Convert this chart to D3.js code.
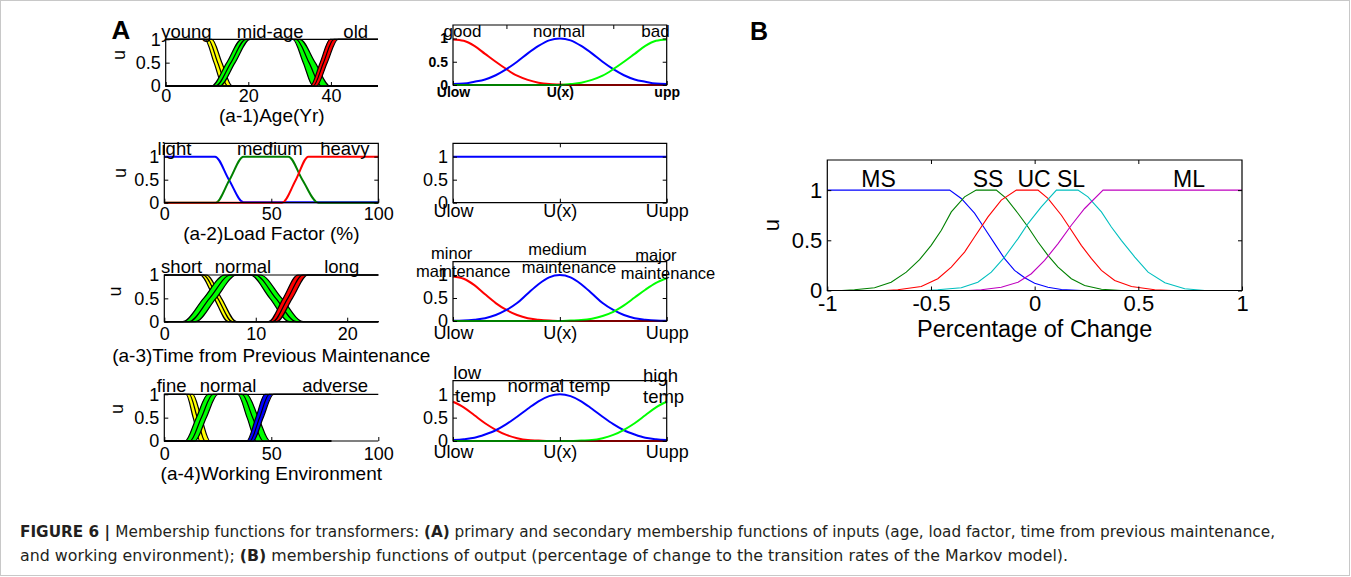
<!DOCTYPE html>
<html>
<head>
<meta charset="utf-8">
<title>Membership functions for transformers</title>
<script src="https://cdn.jsdelivr.net/npm/d3@7/dist/d3.min.js"></script>
<style>
  body { margin: 0; background: #fff; }
  svg { display: block; }
</style>
</head>
<body>
<div id="figure"></div>
<script>
// values
const uTicks = [0, 0.5, 1];

// (a-1) age: each band = inner edge, centre line, outer edge
const ageTicks = [0, 20, 40];
const ageNames = ["young", "mid-age", "old"];
const ageYoung = {
  inner: [[0, 1], [9.5, 1], [11.7, 0.5], [13.9, 0], [51.4, 0]],
  mid: [[0, 1], [10.3, 1], [12.6, 0.5], [15, 0], [51.4, 0]],
  outer: [[0, 1], [11.2, 1], [13.6, 0.5], [16.1, 0], [51.4, 0]],
};
const ageMid = {
  inner: [[0, 0], [13.1, 0], [16.8, 0.5], [20.4, 1], [30.8, 1], [33.3, 0.5], [35.7, 0], [51.4, 0]],
  mid: [[0, 0], [12.1, 0], [15.8, 0.5], [19.4, 1], [31.6, 1], [34.7, 0.5], [37.7, 0], [51.4, 0]],
  outer: [[0, 0], [11.1, 0], [14.8, 0.5], [18.4, 1], [32.5, 1], [36.2, 0.5], [39.8, 0], [51.4, 0]],
};
const ageOld = {
  inner: [[0, 0], [36.5, 0], [39.1, 0.5], [41.7, 1], [51.4, 1]],
  mid: [[0, 0], [35.7, 0], [38.2, 0.5], [40.7, 1], [51.4, 1]],
  outer: [[0, 0], [35, 0], [37.4, 0.5], [39.8, 1], [51.4, 1]],
};

// (a-2) load factor
const loadTicks = [0, 50, 100];
const loadNames = ["light", "medium", "heavy"];
const loadLight = [[0, 1], [23.7, 1], [30.2, 0.5], [37, 0.01], [100, 0.01]];
const loadMedium = [[0, 0], [24, 0], [30.5, 0.5], [37, 1], [58, 1], [64.5, 0.5], [72, 0], [100, 0]];
const loadHeavy = [[0, 0], [55, 0], [61.5, 0.5], [67.3, 1], [100, 1]];

// (a-3) time from previous maintenance
const timeTicks = [0, 10, 20];
const timeNames = ["short", "normal", "long"];
const timeShort = {
  inner: [[0, 1], [3.9, 1], [5.45, 0.5], [7, 0], [23.4, 0]],
  mid: [[0, 1], [4.25, 1], [5.85, 0.5], [7.45, 0], [23.4, 0]],
  outer: [[0, 1], [4.6, 1], [6.25, 0.5], [7.9, 0], [23.4, 0]],
};
const timeNormal = {
  inner: [[0, 0], [3.4, 0], [5.65, 0.5], [7.9, 1], [9.4, 1], [11.55, 0.5], [13.7, 0], [23.4, 0]],
  mid: [[0, 0], [2.7, 0], [4.95, 0.5], [7.25, 1], [9.95, 1], [12.2, 0.5], [14.45, 0], [23.4, 0]],
  outer: [[0, 0], [2, 0], [4.3, 0.5], [6.6, 1], [10.5, 1], [12.85, 0.5], [15.2, 0], [23.4, 0]],
};
const timeLong = {
  inner: [[0, 0], [12.3, 0], [14, 0.5], [15.7, 1], [23.4, 1]],
  mid: [[0, 0], [11.85, 0], [13.5, 0.5], [15.15, 1], [23.4, 1]],
  outer: [[0, 0], [11.4, 0], [13, 0.5], [14.6, 1], [23.4, 1]],
};

// (a-4) working environment
const envTicks = [0, 50, 100];
const envNames = ["fine", "normal", "adverse"];
const envFine = {
  inner: [[0, 1], [10.2, 1], [13.5, 0.5], [16.7, 0], [78, 0]],
  mid: [[0, 1], [11.7, 1], [15.4, 0.5], [19, 0], [78, 0]],
  outer: [[0, 1], [13.3, 1], [17.3, 0.5], [21.4, 0], [78, 0]],
};
const envNormal = {
  inner: [[0, 0], [14.3, 0], [19.6, 0.5], [25, 1], [34.4, 1], [38.7, 0.5], [43, 0], [78, 0]],
  mid: [[0, 0], [12, 0], [17.3, 0.5], [22.7, 1], [36.4, 1], [41.3, 0.5], [46.2, 0], [78, 0]],
  outer: [[0, 0], [9.7, 0], [15, 0.5], [20.4, 1], [38.5, 1], [44, 0.5], [49.4, 0], [78, 0]],
};
const envAdverse = {
  inner: [[0, 0], [41.5, 0], [46.2, 0.5], [51, 1], [78, 1]],
  mid: [[0, 0], [40, 0], [44.5, 0.5], [49, 1], [78, 1]],
  outer: [[0, 0], [38.5, 0], [42.8, 0.5], [47, 1], [78, 1]],
};

const primaryTitles = ["(a-1)Age(Yr)", "(a-2)Load Factor (%)", "(a-3)Time from Previous Maintenance", "(a-4)Working Environment"];

// secondary functions, sampled on U(x) from Ulow (0) to Uupp (1)
const secX = [0, 0.05, 0.1, 0.15, 0.2, 0.25, 0.3, 0.35, 0.4, 0.45, 0.5, 0.55, 0.6, 0.65, 0.7, 0.75, 0.8, 0.85, 0.9, 0.95, 1];
const secTicks = [0, 0.5, 1];
const secTickText = ["Ulow", "U(x)", "Uupp"];
const secTickTextBold = ["Ulow", "U(x)", "upp"];

const ageGood = [0.98, 0.95, 0.84, 0.67, 0.5, 0.34, 0.2, 0.11, 0.05, 0.02, 0.01, 0, 0, 0, 0, 0, 0, 0, 0, 0, 0];
const ageNormal = [0.02, 0.03, 0.07, 0.12, 0.21, 0.34, 0.5, 0.68, 0.84, 0.96, 1, 0.96, 0.84, 0.68, 0.5, 0.34, 0.21, 0.12, 0.07, 0.03, 0.02];
const ageBad = [0, 0, 0, 0, 0, 0, 0, 0, 0, 0, 0, 0.02, 0.05, 0.11, 0.2, 0.34, 0.5, 0.67, 0.84, 0.95, 0.98];
const ageSecNames = ["good", "normal", "bad"];

const loadFlat = [1, 1, 1, 1, 1, 1, 1, 1, 1, 1, 1, 1, 1, 1, 1, 1, 1, 1, 1, 1, 1];

const timeMinor = [0.97, 0.92, 0.78, 0.58, 0.39, 0.24, 0.13, 0.06, 0.03, 0.01, 0, 0, 0, 0, 0, 0, 0, 0, 0, 0, 0];
const timeMedium = [0.003, 0.01, 0.03, 0.06, 0.13, 0.24, 0.39, 0.6, 0.8, 0.95, 1, 0.95, 0.8, 0.6, 0.39, 0.24, 0.13, 0.06, 0.03, 0.01, 0.003];
const timeMajor = [0, 0, 0, 0, 0, 0, 0, 0, 0, 0, 0, 0.01, 0.02, 0.05, 0.11, 0.2, 0.34, 0.51, 0.68, 0.83, 0.93];
const timeSecNames = [["minor", "maintenance"], ["medium", "maintenance"], ["major", "maintenance"]];

const envLow = [0.84, 0.72, 0.55, 0.38, 0.24, 0.13, 0.06, 0.02, 0.01, 0, 0, 0, 0, 0, 0, 0, 0, 0, 0, 0, 0];
const envNormalTemp = [0.02, 0.04, 0.07, 0.14, 0.23, 0.36, 0.52, 0.69, 0.85, 0.96, 1, 0.96, 0.85, 0.69, 0.52, 0.36, 0.23, 0.14, 0.07, 0.04, 0.02];
const envHigh = [0, 0, 0, 0, 0, 0, 0, 0, 0, 0, 0, 0, 0.01, 0.02, 0.06, 0.13, 0.24, 0.38, 0.55, 0.72, 0.84];
const envSecNames = [["low", "temp"], ["normal temp"], ["high", "temp"]];

// (B) output: percentage of change
const outTicks = [-1, -0.5, 0, 0.5, 1];
const outNames = ["MS", "SS", "UC", "SL", "ML"];
const outMS = [[-1, 1], [-0.41, 1], [-0.354, 0.917], [-0.29, 0.77], [-0.241, 0.617], [-0.193, 0.467], [-0.145, 0.317], [-0.097, 0.2], [-0.048, 0.127], [0, 0.073], [0.064, 0.033], [0.129, 0.01], [0.225, 0], [1, 0]];
const outSS = [[-1, 0], [-0.93, 0], [-0.869, 0.007], [-0.772, 0.027], [-0.692, 0.083], [-0.619, 0.183], [-0.555, 0.307], [-0.499, 0.45], [-0.45, 0.6], [-0.402, 0.783], [-0.338, 0.933], [-0.282, 1], [-0.185, 1], [-0.137, 0.917], [-0.08, 0.767], [-0.032, 0.633], [0.016, 0.483], [0.064, 0.35], [0.113, 0.233], [0.177, 0.117], [0.241, 0.05], [0.322, 0.013], [0.418, 0], [1, 0]];
const outUC = [[-1, 0], [-0.72, 0], [-0.66, 0.007], [-0.547, 0.04], [-0.467, 0.117], [-0.402, 0.233], [-0.338, 0.383], [-0.29, 0.533], [-0.225, 0.733], [-0.161, 0.9], [-0.088, 1], [0.016, 1], [0.064, 0.917], [0.129, 0.75], [0.177, 0.6], [0.225, 0.45], [0.274, 0.317], [0.322, 0.2], [0.386, 0.1], [0.467, 0.04], [0.579, 0.007], [0.66, 0], [1, 0]];
const outSL = [[-1, 0], [-0.53, 0], [-0.467, 0.007], [-0.354, 0.027], [-0.274, 0.083], [-0.209, 0.183], [-0.145, 0.333], [-0.08, 0.517], [-0.032, 0.667], [0.032, 0.833], [0.105, 1], [0.209, 1], [0.257, 0.933], [0.322, 0.783], [0.37, 0.633], [0.418, 0.5], [0.483, 0.333], [0.547, 0.183], [0.628, 0.077], [0.724, 0.017], [0.82, 0], [1, 0]];
const outML = [[-1, 0], [-0.32, 0], [-0.257, 0.007], [-0.161, 0.033], [-0.08, 0.083], [-0.016, 0.167], [0.048, 0.3], [0.113, 0.467], [0.177, 0.65], [0.241, 0.817], [0.33, 1], [1, 1]];

const captionLine1 = ["FIGURE 6 | ", "Membership functions for transformers: ", "(A)", " primary and secondary membership functions of inputs (age, load factor, time from previous maintenance,"];
const captionLine2 = ["and working environment); ", "(B)", " membership functions of output (percentage of change to the transition rates of the Markov model)."];

// ---- drawing ----
const FONT = '"Liberation Sans", Arial, Helvetica, sans-serif';
const NARROW = '"Liberation Sans Narrow", "DejaVu Sans Condensed", "Liberation Sans", sans-serif';

const svg = d3
  .select("#figure")
  .append("svg")
  .attr("width", 1351)
  .attr("height", 577);

svg
  .append("rect")
  .attr("x", 0.5)
  .attr("y", 0.5)
  .attr("width", 1349)
  .attr("height", 575)
  .attr("fill", "#fff")
  .attr("stroke", "#c8c8c8");

function scales(cfg) {
  return {
    x: d3.scaleLinear().domain(cfg.xDomain).range([cfg.left, cfg.right]),
    y: d3.scaleLinear().domain([0, cfg.yMax]).range([cfg.bottom, cfg.top]),
  };
}

function drawFrame(g, cfg, x, y) {
  const axes = [];
  axes.push(
    g
      .append("g")
      .attr("transform", `translate(0,${cfg.bottom})`)
      .call(
        d3
          .axisBottom(x)
          .tickValues(cfg.xTicks)
          .tickFormat((d, i) => cfg.xText[i])
          .tickSizeInner(-4)
          .tickSizeOuter(0)
          .tickPadding(cfg.xPad)
      )
  );
  axes.push(
    g
      .append("g")
      .attr("transform", `translate(${cfg.left},0)`)
      .call(
        d3
          .axisLeft(y)
          .tickValues(uTicks)
          .tickFormat(String)
          .tickSizeInner(-4)
          .tickSizeOuter(0)
          .tickPadding(cfg.yPad)
      )
  );
  if (cfg.boxed) {
    axes.push(
      g
        .append("g")
        .attr("transform", `translate(0,${cfg.top})`)
        .call(d3.axisTop(x).tickValues(cfg.topTicks).tickFormat("").tickSizeInner(-4).tickSizeOuter(0))
    );
    axes.push(
      g
        .append("g")
        .attr("transform", `translate(${cfg.right},0)`)
        .call(d3.axisRight(y).tickValues(uTicks).tickFormat("").tickSizeInner(-4).tickSizeOuter(0))
    );
  }
  axes.forEach((a) => {
    a.attr("font-family", FONT)
      .attr("font-size", cfg.tickSize)
      .attr("font-weight", cfg.bold ? "bold" : "normal");
    a.select(".domain").remove();
    a.selectAll(".tick line").attr("stroke", "#000");
    a.selectAll(".tick text").attr("fill", "#000");
  });

  // axes outline (the primary plots have no right edge)
  const p = d3.path();
  p.moveTo(cfg.right, cfg.top);
  p.lineTo(cfg.left, cfg.top);
  p.lineTo(cfg.left, cfg.bottom);
  p.lineTo(cfg.right, cfg.bottom);
  if (cfg.boxed) p.closePath();
  g.append("path").attr("d", p.toString()).attr("fill", "none").attr("stroke", "#000").attr("stroke-width", 1.2);
}

function addText(g, str, px, py, size, opts = {}) {
  return g
    .append("text")
    .attr("x", px)
    .attr("y", py)
    .attr("font-family", FONT)
    .attr("font-size", size)
    .attr("font-weight", opts.bold ? "bold" : "normal")
    .attr("text-anchor", opts.anchor || "middle")
    .attr("fill", "#000")
    .text(str);
}

function addU(g, px, py, size) {
  g.append("text")
    .attr("transform", `translate(${px},${py}) rotate(-90)`)
    .attr("font-family", FONT)
    .attr("font-size", size)
    .attr("text-anchor", "middle")
    .attr("dy", "0.35em")
    .attr("fill", "#000")
    .text("u");
}

// primary plots with shaded bands
function drawBands(cfg, bands, names, title) {
  const { x, y } = scales(cfg);
  const g = svg.append("g");
  const line = d3
    .line()
    .x((d) => x(d[0]))
    .y((d) => y(d[1]))
    .curve(d3.curveMonotoneX);

  bands.forEach((band, i) => {
    const ring = band.inner.concat(band.outer.slice().reverse().slice(1));
    g.append("path")
      .attr("d", line(ring) + "Z")
      .attr("fill", cfg.colors[i])
      .attr("stroke", "none");
    ["inner", "mid", "outer"].forEach((edge) => {
      g.append("path")
        .attr("d", line(band[edge]))
        .attr("fill", "none")
        .attr("stroke", "#000")
        .attr("stroke-width", 1.2);
    });
  });

  drawFrame(g, cfg, x, y);
  names.forEach((n, i) => addText(g, n, x(cfg.labelX[i]), cfg.labelY, 18.5));
  addText(g, title, (cfg.left + cfg.right) / 2, cfg.titleY, 19);
  addU(g, cfg.uX, cfg.uY, 18);
}

// primary plot with plain lines (load factor)
function drawLines(cfg, series, names, title) {
  const { x, y } = scales(cfg);
  const g = svg.append("g");
  const line = d3
    .line()
    .x((d) => x(d[0]))
    .y((d) => y(d[1]))
    .curve(d3.curveMonotoneX);
  series.forEach((s, i) => {
    g.append("path")
      .attr("d", line(s))
      .attr("fill", "none")
      .attr("stroke", cfg.colors[i])
      .attr("stroke-width", 2);
  });
  drawFrame(g, cfg, x, y);
  names.forEach((n, i) => addText(g, n, x(cfg.labelX[i]), cfg.labelY, 18.5));
  addText(g, title, (cfg.left + cfg.right) / 2, cfg.titleY, 19);
  addU(g, cfg.uX, cfg.uY, 18);
}

// secondary plots
function drawSecondary(cfg, series, labels) {
  const { x, y } = scales(cfg);
  const g = svg.append("g");
  const line = d3
    .line()
    .x((d, i) => x(secX[i]))
    .y((d) => y(d))
    .curve(d3.curveMonotoneX);
  series.forEach((s, i) => {
    g.append("path")
      .attr("d", line(s))
      .attr("fill", "none")
      .attr("stroke", cfg.colors[i])
      .attr("stroke-width", 2);
  });
  drawFrame(g, cfg, x, y);
  labels.forEach((lines, i) => {
    lines.forEach((str, j) => {
      const pos = cfg.labelPos[i][j];
      addText(g, str, pos[0], pos[1], cfg.labelSize, { anchor: pos[2] || "middle" });
    });
  });
}

const primaryCommon = { xPad: 5, yPad: 5, tickSize: 18, boxed: false };
const yellow = "#ffff00", lime = "#00ff00", red = "#ff0000", blue = "#0000ff";

drawBands(
  { ...primaryCommon, left: 165.7, right: 378, top: 39.3, bottom: 86, xDomain: [0, 51.4], yMax: 1,
    xTicks: ageTicks, xText: ageTicks, xPad: 3, colors: [yellow, lime, red],
    labelX: [5, 25.3, 46], labelY: 38, titleY: 121.7, uX: 118.5, uY: 55 },
  [ageYoung, ageMid, ageOld], ageNames, primaryTitles[0]
);

drawLines(
  { ...primaryCommon, left: 164.3, right: 378.3, top: 143.3, bottom: 202.7, xDomain: [0, 100], yMax: 1.29,
    xTicks: loadTicks, xText: loadTicks, boxed: true, topTicks: [50], colors: [blue, "#008000", red],
    labelX: [4.7, 49.3, 84.4], labelY: 155, titleY: 240, uX: 120, uY: 173 },
  [loadLight, loadMedium, loadHeavy], loadNames, primaryTitles[1]
);

drawBands(
  { ...primaryCommon, left: 164.3, right: 378.3, top: 275, bottom: 321.7, xDomain: [0, 23.4], yMax: 1,
    xTicks: timeTicks, xText: timeTicks, xPad: 5.5, colors: [yellow, lime, red],
    labelX: [1.9, 8.6, 19.4], labelY: 273.3, titleY: 362, uX: 115, uY: 291.5 },
  [timeShort, timeNormal, timeLong], timeNames, primaryTitles[2]
);

drawBands(
  { ...primaryCommon, left: 164.3, right: 378.3, top: 394.3, bottom: 441, xDomain: [0, 100], yMax: 1,
    xTicks: envTicks, xText: envTicks, xPad: 6.2, colors: [yellow, lime, blue],
    labelX: [3.4, 29.8, 79.8], labelY: 392.3, titleY: 480, uX: 116.5, uY: 409 },
  [envFine, envNormal, envAdverse], envNames, primaryTitles[3]
);

const secCommon = { left: 453, right: 666.7, xDomain: [0, 1], yMax: 1.29, xTicks: secTicks, xText: secTickText,
  boxed: true, topTicks: [0.5], tickSize: 18, yPad: 5, colors: [red, blue, lime] };

drawSecondary(
  { ...secCommon, top: 25, bottom: 85, xText: secTickTextBold, bold: true, tickSize: 14, xPad: 2,
    topTicks: [0.25, 0.5, 0.75], labelSize: 17,
    labelPos: [[[462.5, 36.7]], [[559, 36.7]], [[655.5, 36.7]]] },
  [ageGood, ageNormal, ageBad], ageSecNames.map((n) => [n])
);

drawSecondary(
  { ...secCommon, top: 143.3, bottom: 202.7, xPad: 1.8, colors: [blue], labelSize: 17, labelPos: [] },
  [loadFlat], []
);

drawSecondary(
  { ...secCommon, top: 261.7, bottom: 321, xPad: 5, labelSize: 16.5,
    labelPos: [[[451.7, 259], [463.3, 276.7]], [[557.5, 255], [569, 273.3]], [[656, 260.7], [668, 279.3]]] },
  [timeMinor, timeMedium, timeMajor], timeSecNames
);

drawSecondary(
  { ...secCommon, top: 380.7, bottom: 441, xPad: 4, labelSize: 18.5,
    labelPos: [[[453.3, 379.3, "start"], [455, 401.7, "start"]], [[559, 392.3]], [[643, 381.7, "start"], [643, 402.7, "start"]]] },
  [envLow, envNormalTemp, envHigh], envSecNames
);

// (B) output membership functions
(function drawOutput() {
  const cfg = { left: 827.3, right: 1242, top: 160, bottom: 290.5, xDomain: [-1, 1], yMax: 1.3,
    xTicks: outTicks, xText: outTicks.map(String), boxed: true, topTicks: [-0.5, 0, 0.5],
    tickSize: 22, xPad: 5, yPad: 5 };
  const { x, y } = scales(cfg);
  const g = svg.append("g");
  const line = d3
    .line()
    .x((d) => x(d[0]))
    .y((d) => y(d[1]));
  const colors = ["#0000ff", "#008000", "#ff0000", "#00bfbf", "#bf00bf"];
  [outMS, outSS, outUC, outSL, outML].forEach((s, i) => {
    g.append("path")
      .attr("d", line(s))
      .attr("fill", "none")
      .attr("stroke", colors[i])
      .attr("stroke-width", 1.1);
  });
  drawFrame(g, cfg, x, y);
  const labelX = [878.5, 988, 1034, 1071, 1189];
  outNames.forEach((n, i) => addText(g, n, labelX[i], 187.3, 23));
  addText(g, "Percentage of Change", (cfg.left + cfg.right) / 2, 336.7, 23.5);
  addU(g, 771.7, 225, 22);
})();

addText(svg, "A", 121, 39, 26, { bold: true });
addText(svg, "B", 759, 40, 25, { bold: true });

// caption
function caption(parts, boldIdx, yPos, width) {
  const t = svg
    .append("text")
    .attr("x", 20)
    .attr("y", yPos)
    .attr("font-family", NARROW)
    .attr("font-size", 15.5)
    .attr("fill", "#231f20")
    .attr("textLength", width)
    .attr("lengthAdjust", "spacingAndGlyphs");
  parts.forEach((s, i) => {
    t.append("tspan")
      .attr("font-weight", boldIdx.includes(i) ? "bold" : "normal")
      .text(s);
  });
}
caption(captionLine1, [0, 2], 537, 1255);
caption(captionLine2, [1], 561, 1048);
</script>
</body>
</html>
